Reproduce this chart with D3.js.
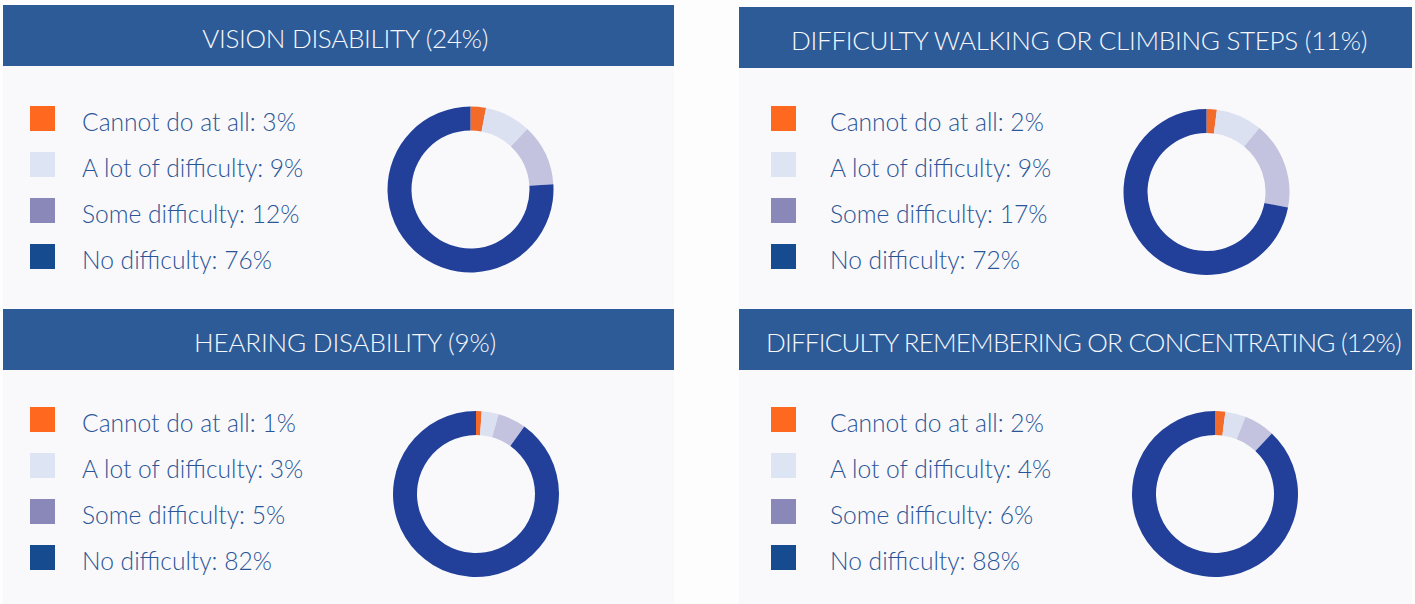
<!DOCTYPE html>
<html>
<head>
<meta charset="utf-8">
<script src="https://cdn.jsdelivr.net/npm/d3@7"></script>
<style>
  html, body { margin: 0; padding: 0; background: #fdfdfd; }
  svg { display: block; }
  text { font-family: Lato, "Open Sans", sans-serif; font-weight: 300; }
</style>
</head>
<body>
<svg id="chart" width="1415" height="604"></svg>
<script>
const titles = [
  "VISION DISABILITY (24%)",
  "DIFFICULTY WALKING OR CLIMBING STEPS (11%)",
  "HEARING DISABILITY (9%)",
  "DIFFICULTY REMEMBERING OR CONCENTRATING (12%)"
];
const categories = ["Cannot do at all", "A lot of difficulty", "Some difficulty", "No difficulty"];
const vision = [3, 9, 12, 76];
const walking = [2, 9, 17, 72];
const hearing = [1, 3, 5, 82];
const remembering = [2, 4, 6, 88];
const seriesValues = [vision, walking, hearing, remembering];

const sliceColors = ["#f26b2a", "#dbe1f0", "#c3c2df", "#22409a"];
const swatchColors = ["#ff681f", "#dde4f3", "#8a88b8", "#164b8f"];

const svg = d3.select("#chart");
const W = 1415, H = 604;

// layout
const cols = [{x0: 3, x1: 674}, {x0: 739, x1: 1412}];
const rows = [{top: [5, 7], hb: [66, 68], legendBase: 131}, {top: [309, 309], hb: [370, 370], legendBase: 432}];
const donutCenters = [[470.5, 189.5], [1206.5, 192], [476, 494], [1215, 494]];
const titleOffsets = [6.5, 3.5, 6.5, 7.5];
const titleWidths = [286, 576, 302, 635];

cols.forEach((c, ci) => {
  svg.append("rect").attr("x", c.x0).attr("y", rows[0].top[ci])
    .attr("width", c.x1 - c.x0).attr("height", H - rows[0].top[ci])
    .attr("fill", "#f9f9fb");
});

const pie = d3.pie().sort(null).value(d => d);
const arc = d3.arc().innerRadius(59).outerRadius(83);
const legendY = d3.scaleLinear().domain([0, 3]);

titles.forEach((title, i) => {
  const ci = i % 2, ri = Math.floor(i / 2);
  const c = cols[ci];
  const top = rows[ri].top[ci], hb = rows[ri].hb[ci];
  const g = svg.append("g");

  g.append("rect").attr("x", c.x0).attr("y", top)
    .attr("width", c.x1 - c.x0).attr("height", hb - top)
    .attr("fill", "#2d5b98");

  const t = g.append("text")
    .attr("x", (c.x0 + c.x1) / 2 + titleOffsets[i])
    .attr("y", (top + hb) / 2 + 12.5)
    .attr("text-anchor", "middle")
    .attr("fill", "#f6f8fc")
    .attr("font-size", 26)
    .text(title);
  const natural = t.node().getComputedTextLength();
  const ls = (titleWidths[i] - natural) / title.length;
  t.attr("letter-spacing", ls.toFixed(2));
  // compensate trailing spacing so the visible text stays centered
  t.attr("dx", (-ls / 2).toFixed(2));

  const base = rows[ri].legendBase;
  legendY.range([base, base + 138]);
  const lx = c.x0 + (ci === 0 ? 27 : 32);
  const tx = ci === 0 ? 82 : 830;
  const vals = seriesValues[i];
  categories.forEach((cat, k) => {
    const y = legendY(k);
    g.append("rect").attr("x", lx).attr("y", y - 25)
      .attr("width", 25).attr("height", 25)
      .attr("fill", swatchColors[k]);
    g.append("text").attr("x", tx).attr("y", y)
      .attr("fill", "#2a5597")
      .attr("font-size", 24.6)
      .text(`${cat}: ${vals[k]}%`);
  });

  const [cx, cy] = donutCenters[i];
  g.append("g").attr("transform", `translate(${cx},${cy})`)
    .selectAll("path").data(pie(vals)).join("path")
    .attr("d", arc)
    .attr("fill", (d, k) => sliceColors[k]);
});
</script>
</body>
</html>
